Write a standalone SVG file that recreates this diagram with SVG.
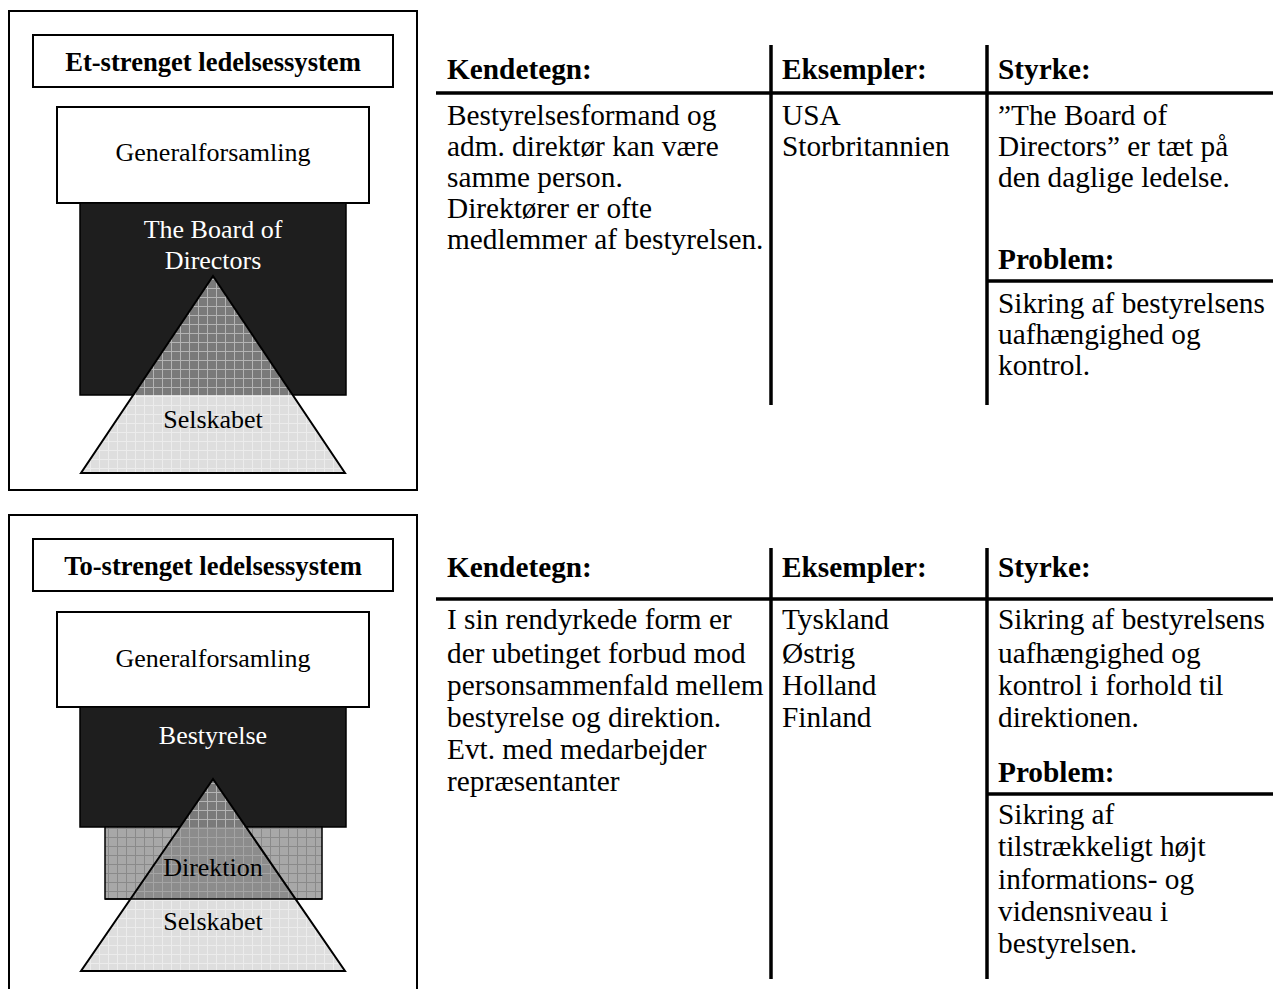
<svg xmlns="http://www.w3.org/2000/svg" width="1273" height="989" viewBox="0 0 1273 989">
<style>
.t{font-family:"Liberation Serif","Times New Roman",serif;font-size:29.3px;fill:#000}
.b{font-weight:bold}
.lbl{font-family:"Liberation Serif","Times New Roman",serif;font-size:26px;fill:#000;text-anchor:middle}
.hd{font-family:"Liberation Serif","Times New Roman",serif;font-size:26.6px;font-weight:bold;fill:#000;text-anchor:middle}
.w{fill:#fff}
.frame{fill:#fff;stroke:#000;stroke-width:2}
.box{fill:#fff;stroke:#000;stroke-width:2}
.dark{fill:#1e1e1e;stroke:#000;stroke-width:1.5}
.edge{fill:none;stroke:#000;stroke-width:2;stroke-linejoin:miter}
.rule{stroke:#000;stroke-width:3.5;fill:none}
</style>
<defs>
<pattern id="pLight" width="9" height="9" patternUnits="userSpaceOnUse">
<rect width="9" height="9" fill="#dedede"/>
<path d="M0 0.5H9M0.5 0V9" stroke="#ececec" stroke-width="1"/>
</pattern>
<pattern id="pOverDark" width="9" height="9" patternUnits="userSpaceOnUse">
<rect width="9" height="9" fill="#7a7a7a"/>
<path d="M0 0.5H9M0.5 0V9" stroke="#b4b4b4" stroke-width="1"/>
</pattern>
<pattern id="pDir" width="9" height="9" patternUnits="userSpaceOnUse">
<rect width="9" height="9" fill="#a8a8a8"/>
<path d="M0 0.5H9M0.5 0V9" stroke="#8a8a8a" stroke-width="1"/>
</pattern>
<pattern id="pOverDir" width="9" height="9" patternUnits="userSpaceOnUse">
<rect width="9" height="9" fill="#8c8c8c"/>
<path d="M0 0.5H9M0.5 0V9" stroke="#a4a4a4" stroke-width="1"/>
</pattern>
<clipPath id="cDark1"><rect x="80" y="203" width="266" height="192"/></clipPath>
<clipPath id="cDark2"><rect x="80" y="707" width="266" height="120"/></clipPath>
<clipPath id="cDir2"><rect x="105" y="827" width="217" height="72"/></clipPath>
</defs>

<!-- ===== Top: one-tier system ===== -->
<g id="frame-top">
<rect class="frame" x="9" y="11" width="408" height="479"/>
</g>
<g id="title-top">
<rect class="box" x="33" y="35" width="360" height="52"/>
<text class="hd" x="213" y="71">Et-strenget ledelsessystem</text>
</g>
<g id="generalforsamling-top">
<rect class="box" x="57" y="107" width="312" height="96"/>
<text class="lbl" x="213" y="161">Generalforsamling</text>
</g>
<g id="board-top">
<rect class="dark" x="80" y="203" width="266" height="192"/>
</g>
<g id="selskabet-top">
<polygon points="213,276 81,473 345,473" fill="url(#pLight)"/>
<polygon points="213,276 81,473 345,473" fill="url(#pOverDark)" clip-path="url(#cDark1)"/>
<polygon class="edge" points="213,276 81,473 345,473"/>
<text class="lbl" x="213" y="428">Selskabet</text>
</g>
<g id="board-top-label">
<text class="lbl w" x="213" y="238">The Board of</text>
<text class="lbl w" x="213" y="269">Directors</text>
</g>

<!-- ===== Bottom: two-tier system ===== -->
<g id="frame-bottom">
<path class="frame" d="M9 1000V515H417V1000"/>
</g>
<g id="title-bottom">
<rect class="box" x="33" y="539" width="360" height="52"/>
<text class="hd" x="213" y="575">To-strenget ledelsessystem</text>
</g>
<g id="generalforsamling-bottom">
<rect class="box" x="57" y="612" width="312" height="95"/>
<text class="lbl" x="213" y="667">Generalforsamling</text>
</g>
<g id="bestyrelse-bottom">
<rect class="dark" x="80" y="707" width="266" height="120"/>
</g>
<g id="direktion-bottom">
<rect x="105" y="827" width="217" height="72" fill="url(#pDir)" stroke="#000" stroke-width="1.5"/>
</g>
<g id="selskabet-bottom">
<polygon points="213,779 81,971 345,971" fill="url(#pLight)"/>
<polygon points="213,779 81,971 345,971" fill="url(#pOverDark)" clip-path="url(#cDark2)"/>
<polygon points="213,779 81,971 345,971" fill="url(#pOverDir)" clip-path="url(#cDir2)"/>
<line x1="105" y1="899" x2="322" y2="899" stroke="#000" stroke-width="1.5"/>
<polygon class="edge" points="213,779 81,971 345,971"/>
<text class="lbl" x="213" y="930">Selskabet</text>
</g>
<g id="labels-bottom">
<text class="lbl w" x="213" y="744">Bestyrelse</text>
<text class="lbl" x="213" y="876">Direktion</text>
</g>

<!-- ===== Table rules ===== -->
<g id="connectors">
<line class="rule" x1="436" y1="93" x2="1273" y2="93"/>
<line class="rule" x1="771" y1="45" x2="771" y2="405"/>
<line class="rule" x1="987" y1="45" x2="987" y2="405"/>
<line class="rule" x1="987" y1="281" x2="1273" y2="281"/>
<line class="rule" x1="436" y1="599" x2="1273" y2="599"/>
<line class="rule" x1="771" y1="548" x2="771" y2="979"/>
<line class="rule" x1="987" y1="548" x2="987" y2="979"/>
<line class="rule" x1="987" y1="794" x2="1273" y2="794"/>
</g>

<!-- ===== Top table ===== -->
<g id="table-top-kendetegn">
<text class="t b" x="447" y="79">Kendetegn:</text>
<text class="t" x="447" y="125">Bestyrelsesformand og</text>
<text class="t" x="447" y="156">adm. direktør kan være</text>
<text class="t" x="447" y="187">samme person.</text>
<text class="t" x="447" y="218">Direktører er ofte</text>
<text class="t" x="447" y="249">medlemmer af bestyrelsen.</text>
</g>
<g id="table-top-eksempler">
<text class="t b" x="782" y="79">Eksempler:</text>
<text class="t" x="782" y="125">USA</text>
<text class="t" x="782" y="156">Storbritannien</text>
</g>
<g id="table-top-styrke">
<text class="t b" x="998" y="79">Styrke:</text>
<text class="t" x="998" y="125">”The Board of</text>
<text class="t" x="998" y="156">Directors” er tæt på</text>
<text class="t" x="998" y="187">den daglige ledelse.</text>
<text class="t b" x="998" y="269">Problem:</text>
<text class="t" x="998" y="313">Sikring af bestyrelsens</text>
<text class="t" x="998" y="344">uafhængighed og</text>
<text class="t" x="998" y="375">kontrol.</text>
</g>

<!-- ===== Bottom table ===== -->
<g id="table-bottom-kendetegn">
<text class="t b" x="447" y="577">Kendetegn:</text>
<text class="t" x="447" y="629">I sin rendyrkede form er</text>
<text class="t" x="447" y="663">der ubetinget forbud mod</text>
<text class="t" x="447" y="695">personsammenfald mellem</text>
<text class="t" x="447" y="727">bestyrelse og direktion.</text>
<text class="t" x="447" y="759">Evt. med medarbejder</text>
<text class="t" x="447" y="791">repræsentanter</text>
</g>
<g id="table-bottom-eksempler">
<text class="t b" x="782" y="577">Eksempler:</text>
<text class="t" x="782" y="629">Tyskland</text>
<text class="t" x="782" y="663">Østrig</text>
<text class="t" x="782" y="695">Holland</text>
<text class="t" x="782" y="727">Finland</text>
</g>
<g id="table-bottom-styrke">
<text class="t b" x="998" y="577">Styrke:</text>
<text class="t" x="998" y="629">Sikring af bestyrelsens</text>
<text class="t" x="998" y="663">uafhængighed og</text>
<text class="t" x="998" y="695">kontrol i forhold til</text>
<text class="t" x="998" y="727">direktionen.</text>
<text class="t b" x="998" y="782">Problem:</text>
<text class="t" x="998" y="824">Sikring af</text>
<text class="t" x="998" y="856">tilstrækkeligt højt</text>
<text class="t" x="998" y="889">informations- og</text>
<text class="t" x="998" y="921">vidensniveau i</text>
<text class="t" x="998" y="953">bestyrelsen.</text>
</g>
</svg>
